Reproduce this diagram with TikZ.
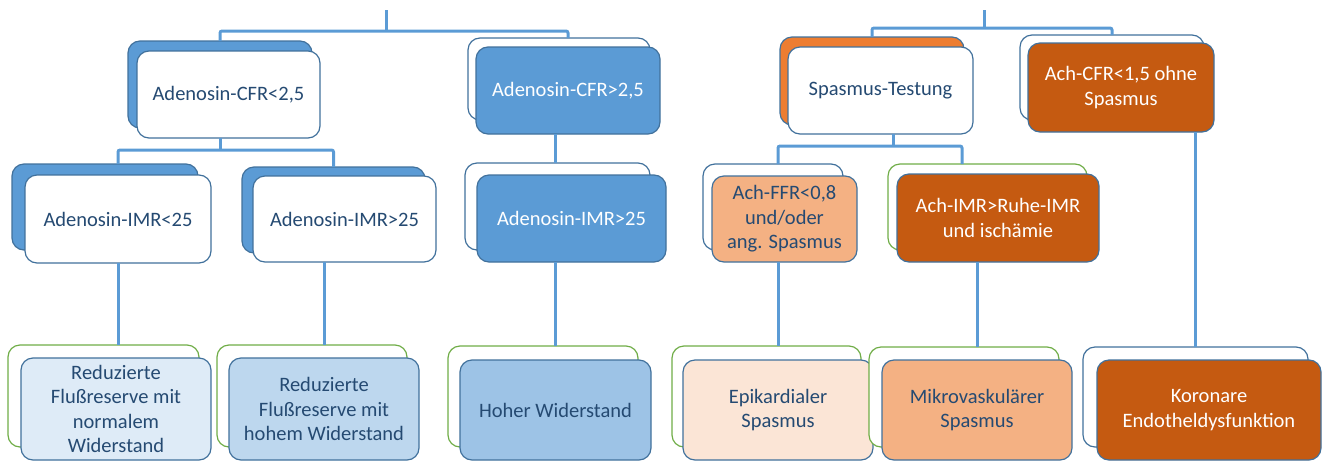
\documentclass[tikz,border=0pt]{standalone}
\usepackage{fontspec}
\setmainfont{Carlito}
\definecolor{lineblue}{HTML}{5B9BD5}
\definecolor{edgeblue}{HTML}{41719C}
\definecolor{edgegreen}{HTML}{70AD47}
\definecolor{fillblue}{HTML}{5B9BD5}
\definecolor{fillorange}{HTML}{ED7D31}
\definecolor{darkorange}{HTML}{C55A11}
\definecolor{lightorange}{HTML}{F4B183}
\definecolor{peach}{HTML}{FBE5D6}
\definecolor{lbA}{HTML}{DEEBF7}
\definecolor{lbB}{HTML}{BDD7EE}
\definecolor{lbC}{HTML}{9DC3E6}
\definecolor{txtdark}{HTML}{254A72}
\tikzset{
  conn/.style={draw=lineblue, line width=3pt, rounded corners=2pt},
  boxbase/.style={rectangle, rounded corners=12pt, inner sep=0pt, outer sep=0pt, line width=1.2pt},
  frontbox/.style={boxbase, draw=edgeblue, align=center, font=\fontsize{20.5}{24.5}\selectfont},
  backwhite/.style={boxbase, draw=edgeblue, fill=white},
  backgreen/.style={boxbase, draw=edgegreen, fill=white},
  backblue/.style={boxbase, draw=edgeblue, fill=fillblue},
  backorange/.style={boxbase, draw=edgeblue, fill=fillorange},
  darktext/.style={text=txtdark},
  lighttext/.style={text=white},
  sz/.style 2 args={minimum width=#1pt, minimum height=#2pt}
}
\begin{document}
\begin{tikzpicture}[x=1pt,y=-1pt]
\useasboundingbox (0,0) rectangle (1322,461);
% ---------- back boxes ----------
\node[backblue, sz={184}{87}] (aCFRloB) at (220,84.5) {};
\node[backwhite, sz={182}{82}] (aCFRhiB) at (559,79) {};
\node[backorange, sz={184}{88}] (spTB) at (872,81) {};
\node[backwhite, sz={184}{85}] (achCFRB) at (1112,77.5) {};
% ---------- front boxes, level 1 ----------
\node[frontbox, fill=white, darktext, sz={183}{87}] (aCFRlo) at (228.5,94.5) {Adenosin-CFR<2,5};
\node[frontbox, fill=fillblue, lighttext, sz={184}{87}] (aCFRhi) at (568,90.5) {Adenosin-CFR>2,5};
\node[frontbox, fill=white, darktext, sz={185}{87}] (spT) at (880.5,90.5) {Spasmus-Testung};
\node[frontbox, fill=darkorange, lighttext, sz={186}{89}] (achCFR) at (1121,87.5) {Ach-CFR<1,5 ohne\\Spasmus};
% ---------- level 2 ----------
\node[backblue, sz={186}{86}] (aIMRloB) at (105,207) {};
\node[frontbox, fill=white, darktext, sz={186}{88}] (aIMRlo) at (118,219) {Adenosin-IMR<25};
\node[backblue, sz={183}{86}] (aIMRhiB) at (333.5,210) {};
\node[frontbox, fill=white, darktext, sz={183}{86}] (aIMRhi) at (344.5,219) {Adenosin-IMR>25};
\node[backwhite, sz={185}{87}] (aIMRhiiB) at (557.5,206.5) {};
\node[frontbox, fill=fillblue, lighttext, sz={189}{87}] (aIMRhii) at (571.5,218.5) {Adenosin-IMR>25};
\node[backwhite, sz={140}{86}] (achFFRB) at (773,207) {};
\node[frontbox, fill=lightorange, darktext, sz={145}{86}] (achFFR) at (784.5,219) {Ach-FFR<0,8\\und/oder\\ang. Spasmus};
\node[backgreen, sz={199}{86}] (achIMRB) at (987.5,207) {};
\node[frontbox, fill=darkorange, lighttext, sz={202}{88}] (achIMR) at (998,218) {Ach-IMR>Ruhe-IMR\\und ischämie};
% ---------- level 3 ----------
\node[backgreen, sz={191}{102}] (rIB) at (103.5,396) {};
\node[frontbox, fill=lbA, darktext, sz={190}{102}] (rI) at (116,409) {Reduzierte\\Flußreserve mit\\normalem\\Widerstand};
\node[backgreen, sz={190}{102}] (rIIB) at (312,396) {};
\node[frontbox, fill=lbB, darktext, sz={190}{102}] (rII) at (324,409) {Reduzierte\\Flußreserve mit\\hohem Widerstand};
\node[backgreen, sz={190}{101}] (hwB) at (543,396.5) {};
\node[frontbox, fill=lbC, darktext, sz={191}{100}] (hw) at (555.5,410) {Hoher Widerstand};
\node[backgreen, sz={189}{101}] (epiB) at (766.5,396.5) {};
\node[frontbox, fill=peach, darktext, sz={190}{100}] (epi) at (778,410) {Epikardialer\\Spasmus};
\node[backgreen, sz={190}{100}] (mikB) at (964,397) {};
\node[frontbox, fill=lightorange, darktext, sz={190}{100}] (mik) at (977,410) {Mikrovaskulärer\\Spasmus};
\node[backwhite, sz={225}{100}] (korB) at (1195.5,397) {};
\node[frontbox, fill=darkorange, lighttext, sz={224}{100}] (kor) at (1209,410) {Koronare\\Endotheldysfunktion};
% ---------- connectors ----------
\coordinate (tL) at (386,10);
\coordinate (jL) at (386,31);
\coordinate (tR) at (984,10);
\coordinate (jR) at (984,28);
\coordinate (jA) at (220,150);
\coordinate (jS) at (893,146);
\coordinate (jSr) at (962,146);
\begin{scope}[on background layer/.style={}]
\draw[conn] (tL) -- (jL);
\draw[conn] (aCFRloB.north) |- (jL) -| (aCFRhi.north |- aCFRhiB.north);
\draw[conn] (tR) -- (jR);
\draw[conn] (spTB.north) |- (jR) -| (achCFRB.north);
\draw[conn] (aCFRloB.south |- aCFRlo.south) -- (jA);
\draw[conn] (aIMRlo.north |- aIMRloB.north) |- (jA) -| (aIMRhiB.north);
\draw[conn] (aIMRlo.south) -- (aIMRlo.south |- rIB.north);
\draw[conn] (rII.north |- aIMRhi.south) -- (rII.north |- rIIB.north);
\draw[conn] (hw.north |- aCFRhi.south) -- (hw.north |- aIMRhiiB.north);
\draw[conn] (hw.north |- aIMRhii.south) -- (hw.north |- hwB.north);
\draw[conn] (jS |- spT.south) -- (jS);
\draw[conn] (epi.north |- achFFRB.north) |- (jS) -- (jSr) -- (jSr |- achIMRB.north);
\draw[conn] (epi.north |- achFFR.south) -- (epi.north |- epiB.north);
\draw[conn] (mik.north |- achIMR.south) -- (mik.north |- mikB.north);
\draw[conn] (korB.north |- achCFR.south) -- (korB.north);
\end{scope}
\end{tikzpicture}
\end{document}
